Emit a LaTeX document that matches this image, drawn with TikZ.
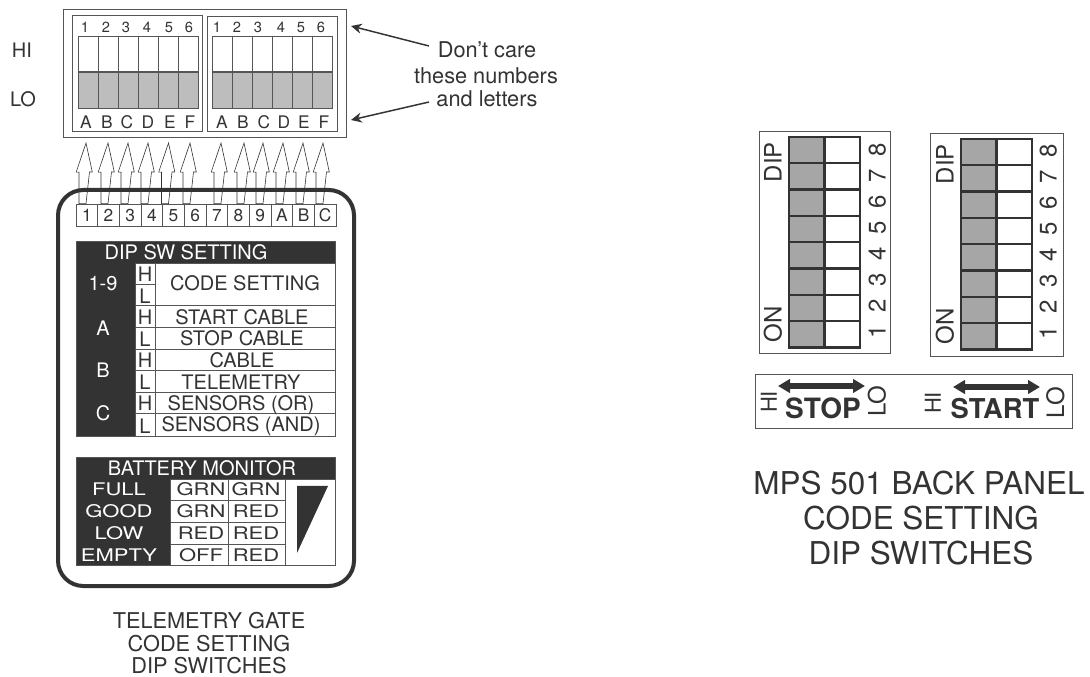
\documentclass[tikz,border=0pt]{standalone}
\usepackage{fontspec}
\setmainfont{TeX Gyre Heros}
\usetikzlibrary{arrows.meta}

\definecolor{inkdark}{HTML}{333333}
\definecolor{ruleGray}{HTML}{555555}
\definecolor{slideLight}{HTML}{BDBDBD}
\definecolor{slideDark}{HTML}{A6A6A6}

\newcommand{\squat}[1]{\scalebox{1.1}[.87]{#1}}

\tikzset{
  lbl/.style={inner sep=0pt, text=inkdark, text depth=0pt},
  tiny lbl/.style={lbl, font=\fontsize{11}{13}\selectfont, text height=7.9pt},
  letter lbl/.style={lbl, font=\fontsize{13}{15}\selectfont, text height=9.4pt},
  table lbl/.style={lbl, font=\fontsize{15}{17}\selectfont, text height=10.8pt},
  neg lbl/.style={table lbl, text=white},
  caption lbl/.style={lbl, font=\fontsize{16.3}{18}\selectfont, text height=11.7pt},
  title lbl/.style={lbl, font=\fontsize{23.6}{26}\selectfont, text height=17pt},
  side lbl/.style={lbl, font=\fontsize{18}{20}\selectfont, text height=13pt, rotate=90},
  hi lbl/.style={side lbl, font=\fontsize{16.5}{18}\selectfont, text height=11.9pt},
  bold lbl/.style={lbl, font=\fontsize{21}{24}\selectfont\bfseries, text height=15.1pt},
  thin rule/.style={draw=ruleGray, line width=.6pt},
  cell rule/.style={draw=inkdark, line width=1.8pt},
  plug/.style={draw=inkdark, line width=.45pt},
  note arrow/.style={draw=inkdark, line width=1.1pt, -{Stealth[length=8pt,width=7.5pt]}},
  panel arrow/.style={draw=inkdark, line width=5pt,
    {Stealth[length=9pt,width=10pt,inset=0pt]}-{Stealth[length=9pt,width=10pt,inset=0pt]}},
}

\begin{document}
\begin{tikzpicture}[x=.75pt, y=-.75pt]
  \useasboundingbox (0,0) rectangle (1090,677);

  % ---------------------------------------------------------- telemetry gate dips
  \draw[thin rule] (63,9) rectangle (346,137);
  \draw[thin rule] (72,15) rectangle (202,131);
  \draw[thin rule] (207,16) rectangle (337,131);
  \node[table lbl] (hiTxt) at (22,50) {HI};
  \node[table lbl] (loTxt) at (23,99) {LO};

  % Left and right bank of six slides, HI half white, LO half grey.
  \foreach \x in {78, 212} {
    \fill[slideLight] (\x,72) rectangle (\x+120,108);
    \draw[thin rule] (\x,36) rectangle (\x+120,108);
    \draw[thin rule, line width=.8pt] (\x,72) -- (\x+120,72);
    \foreach \k in {1,...,5}
      \draw[thin rule] (\x+20*\k,36) -- (\x+20*\k,108);
  }
  \foreach \n/\x/\l in {1/85/A, 2/106/B, 3/126/C, 4/147/D, 5/169/E, 6/189/F} {
    \node[tiny lbl] (numA\n) at (\x,27) {\n};
    \node[letter lbl] (letA\n) at (\x+1,122) {\l};
  }
  \foreach \n/\x/\u/\l in {1/217/222/A, 2/237/243/B, 3/258/264/C, 4/281/284/D, 5/301/304/E, 6/321/324/F} {
    \node[tiny lbl] (numB\n) at (\x,27) {\n};
    \node[letter lbl] (letB\n) at (\u,122) {\l};
  }

  % ---------------------------------------------------------- the remark
  \node[caption lbl] (careA) at (487,50) {Don't care};
  \node[caption lbl] (careB) at (486,76) {these numbers};
  \node[caption lbl] (careC) at (487,99) {and letters};
  \coordinate (careTail) at (429,46);
  \coordinate (careHead) at (429,102);
  \coordinate (tipHi) at (351,26);
  \coordinate (tipLo) at (351,120);
  \draw[note arrow] (careTail) -- (tipHi);
  \draw[note arrow] (careHead) -- (tipLo);

  % ---------------------------------------------------------- connector strip
  \foreach \n/\t [evaluate=\n as \cx using 76+21.67*(\n-.5)] in
      {1/1, 2/2, 3/3, 4/4, 5/5, 6/6, 7/7, 8/8, 9/9, 10/A, 11/B, 12/C}
    \node[letter lbl, thin rule, minimum width=16.25pt, minimum height=16.5pt]
      (pin\n) at (\cx,215) {\t};

  % Hollow arrows from the strip up to the slides, bold outline goes over them.
  \foreach \n/\x in {1/86, 2/108, 3/128, 4/148, 5/168.5, 6/190,
      7/221, 8/244, 9/263, 10/283, 11/303, 12/323} {
    \coordinate (tip\n) at (\x,143);
    \draw[plug] (tip\n) -- ++(6.3,29) -- ++(-2.8,0) -- (tip\n |- pin\n.north)
      -- ++(-7,0) -- ++(0,-31.5) -- ++(-2.8,0) -- cycle;
  }
  \draw[inkdark, line width=3pt, rounded corners=19pt] (58,190) rectangle (354,586);

  % ---------------------------------------------------------- dip sw setting
  \fill[inkdark] (76,241) rectangle (335,436);
  \fill[white] (135,263) rectangle (335,436);
  \draw[thin rule] (76,241) rectangle (335,436);
  \draw[thin rule] (135,263) -- (335,263);
  \draw[thin rule] (135,263) -- (135,436);
  \draw[thin rule] (155,263) -- (155,436);
  \draw[thin rule] (135,284.5) -- (155,284.5);
  \foreach \y in {305.5, 327.5, 349, 370.5, 392, 413.5}
    \draw[thin rule] (135,\y) -- (335,\y);
  \node[neg lbl] (dipHead) at (186,252) {DIP SW SETTING};
  \foreach \y/\t in {283/1-9, 328/A, 370/B, 413/C}
    \node[neg lbl] (row\t) at (103,\y) {\t};
  \foreach \n/\y/\t in {1/274/H, 2/296/L, 3/317/H, 4/339/L, 5/360/H, 6/382/L, 7/403/H, 8/426/L}
    \node[table lbl] (level\n) at (145,\y) {\t};
  \node[table lbl] (useCode) at (245,283) {CODE SETTING};
  \node[table lbl] (useStart) at (242,317) {START CABLE};
  \node[table lbl] (useStop) at (242,338) {STOP CABLE};
  \node[table lbl] (useCable) at (242,360) {CABLE};
  \node[table lbl] (useTele) at (241,382) {TELEMETRY};
  \node[table lbl] (useOr) at (241,403) {SENSORS (OR)};
  \node[table lbl] (useAnd) at (241,424) {SENSORS (AND)};

  % ---------------------------------------------------------- battery monitor
  \fill[inkdark] (76,457) rectangle (335,565);
  \fill[white] (170,479) rectangle (335,565);
  \draw[thin rule] (76,457) rectangle (335,565);
  \draw[thin rule] (170,479) -- (335,479);
  \draw[thin rule] (170,479) -- (170,565);
  \draw[thin rule] (228,479) -- (228,565);
  \draw[thin rule] (285,479) -- (285,565);
  \foreach \y in {500, 522, 544}
    \draw[thin rule] (170,\y) -- (285,\y);
  \fill[inkdark] (297,486) -- (328,486) -- (297,553) -- cycle;
  \node[neg lbl] (batHead) at (202,468) {BATTERY MONITOR};
  \foreach \y/\t/\a/\b in {489/FULL/GRN/GRN, 511/GOOD/GRN/RED, 533/LOW/RED/RED, 555/EMPTY/OFF/RED} {
    \node[neg lbl, text height=9.4pt] (state\t) at (119,\y) {\squat{\t}};
    \node[table lbl, text height=9.4pt] (ledA\t) at (201,\y) {\squat{\a}};
    \node[table lbl, text height=9.4pt] (ledB\t) at (256,\y) {\squat{\b}};
  }

  \node[caption lbl] (gateA) at (209,621) {TELEMETRY GATE};
  \node[caption lbl] (gateB) at (209,644) {CODE SETTING};
  \node[caption lbl] (gateC) at (209,666) {DIP SWITCHES};

  % ---------------------------------------------------------- mps 501 back panel
  \foreach \t/\bx/\bX/\by/\bY/\sx/\sy/\tx/\nx/\ny in
      {s/759/890/131/353/789/137/773/877/357.5, r/930/1063/133/356/961/139/945/1048/359} {
    \draw[thin rule] (\bx,\by) rectangle (\bX,\bY);
    \fill[slideDark] (\sx,\sy) rectangle (\sx+35.5,\sy+210.5);
    \draw[cell rule] (\sx,\sy) rectangle (\sx+71,\sy+210.5);
    \draw[cell rule] (\sx+35.5,\sy) -- (\sx+35.5,\sy+210.5);
    \foreach \k in {1,...,7}
      \draw[cell rule] (\sx,\sy+26.3*\k) -- (\sx+71,\sy+26.3*\k);
    \foreach \n in {1,...,8}
      \node[side lbl] (num\t\n) at (\nx,\ny-26*\n) {\n};
    \node[side lbl] (dip\t) at (\tx,\sy+25) {DIP};
    \node[side lbl] (on\t) at (\tx,\sy+187.5) {ON};
  }

  \draw[thin rule] (755,374) rectangle (1072,428);
  \node[hi lbl] (hiStop) at (769,402) {HI};
  \node[side lbl] (loStop) at (877,401) {LO};
  \node[bold lbl] (stopTxt) at (823,408) {STOP};
  \coordinate (stopL) at (778,386);
  \coordinate (stopR) at (865,386);
  \draw[panel arrow] (stopL) -- (stopR);
  \node[hi lbl] (hiStart) at (933,403) {HI};
  \node[side lbl] (loStart) at (1055.5,402.5) {LO};
  \node[bold lbl, font=\fontsize{20.5}{24}\selectfont\bfseries] (startTxt) at (995,408) {START};
  \coordinate (startL) at (953,387);
  \coordinate (startR) at (1040,387);
  \draw[panel arrow] (startL) -- (startR);

  \node[title lbl] (backA) at (919,483) {MPS 501 BACK PANEL};
  \node[title lbl] (backB) at (921,518) {CODE SETTING};
  \node[title lbl] (backC) at (921,553) {DIP SWITCHES};

\end{tikzpicture}
\end{document}
